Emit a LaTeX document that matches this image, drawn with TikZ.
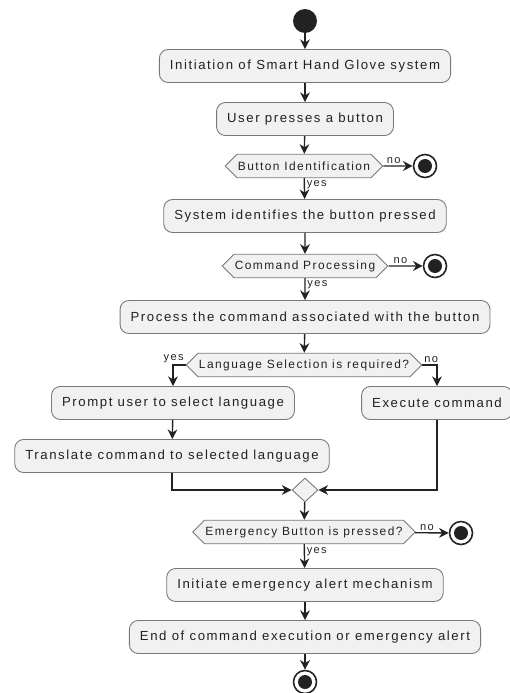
\documentclass[tikz,border=0pt]{standalone}
\usepackage{fontspec}
\newfontfamily\flowfont{Liberation Sans}[LetterSpace=12]
\usepackage{tikz}
\usetikzlibrary{positioning}
\usetikzlibrary{arrows.meta}
\usetikzlibrary{shapes.geometric}
\usetikzlibrary{shapes.symbols}
\definecolor{box-fill}{RGB}{241,241,241}
\definecolor{box-line}{RGB}{120,120,120}
\definecolor{ink}{RGB}{34,34,34}

\begin{document}
\begin{tikzpicture}[x=0.02cm, y=-0.02cm, >={Stealth[length=5.5pt,width=5.5pt,inset=1.8pt]},
every node/.style={font=\flowfont\fontsize{7.5pt}{8.5pt}\selectfont, text=ink},
act/.style={rectangle, rounded corners=5pt, draw=box-line, line width=0.5pt, fill=box-fill, minimum height=0.66cm, inner xsep=6pt},
test/.style={signal, signal to=west and east, signal pointer angle=90, draw=box-line, line width=0.5pt, fill=box-fill, minimum height=0.47cm, inner xsep=0.5pt, font=\flowfont\fontsize{6.8pt}{8pt}\selectfont},
merge/.style={diamond, draw=box-line, line width=0.5pt, fill=box-fill, minimum width=0.52cm, minimum height=0.48cm, inner sep=0pt},
start/.style={circle, fill=ink, minimum size=0.48cm, inner sep=0pt},
stop/.style={circle, draw=ink, line width=0.9pt, fill=white, minimum size=0.46cm, inner sep=0pt,
  path picture={\fill[ink] (path picture bounding box.center) circle (0.14cm);}},
lbl/.style={font=\flowfont\fontsize{6.3pt}{7pt}\selectfont, inner sep=1pt},
flow/.style={->, draw=ink, line width=0.8pt}]
\useasboundingbox (0,0) rectangle (510,693);

% start
\node [start] (s) at (305,21) {};

% actions
\node [act] (init) at (305,66) {Initiation of Smart Hand Glove system};
\node [act] (press) at (305,119) {User presses a button};
\node [test] (ident) at (304,166) {Button Identification};
\node [stop] (stopa) at (425,166) {};
\node [act] (sys) at (305,216) {System identifies the button pressed};
\node [test] (cmd) at (305,266) {Command Processing};
\node [stop] (stopb) at (435,266) {};
\node [act] (proc) at (305,317) {Process the command associated with the button};
\node [test] (lang) at (304,365) {Language Selection is required?};
\node [act] (prompt) at (173,403) {Prompt user to select language};
\node [act] (exec) at (437,403) {Execute command};
\node [act] (trans) at (172,456) {Translate command to selected language};
\node [merge] (join) at (305,490) {};
\node [test] (emerg) at (304,532) {Emergency Button is pressed?};
\node [stop] (stopc) at (461,533) {};
\node [act] (alert) at (305,585) {Initiate emergency alert mechanism};
\node [act] (done) at (305,637) {End of command execution or emergency alert};
\node [stop] (e) at (305,682) {};

% arrows
\draw [flow] (s) -- (init);
\draw [flow] (init) -- (press);
\draw [flow] (press) -- (ident);
\draw [flow] (ident) -- node[lbl, above, pos=0.35] {no} (stopa);
\draw [flow] (ident) -- node[lbl, right, pos=0.3] {yes} (sys);
\draw [flow] (sys) -- (cmd);
\draw [flow] (cmd) -- node[lbl, above, pos=0.35] {no} (stopb);
\draw [flow] (cmd) -- node[lbl, right, pos=0.3] {yes} (proc);
\draw [flow] (proc) -- (lang);

% branches
\draw [flow] (lang.west) -| (prompt);
\node [lbl, anchor=south east] (ly) at (lang.west) {yes};
\draw [flow] (lang.east) -| (exec);
\node [lbl, anchor=south west] (ln) at (lang.east) {no};
\draw [flow] (prompt) -- (trans);
\draw [flow] (trans) |- (join);
\draw [flow] (exec) |- (join);
\draw [flow] (join) -- (emerg);

% emergency
\draw [flow] (emerg) -- node[lbl, above, pos=0.35] {no} (stopc);
\draw [flow] (emerg) -- node[lbl, right, pos=0.3] {yes} (alert);
\draw [flow] (alert) -- (done);
\draw [flow] (done) -- (e);

\end{tikzpicture}
\end{document}
